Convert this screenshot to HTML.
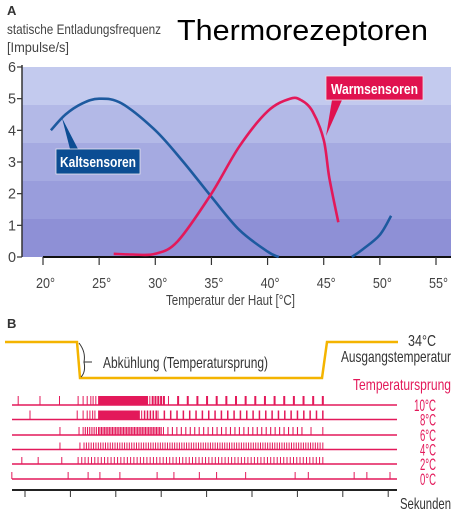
<!DOCTYPE html>
<html><head><meta charset="utf-8">
<style>
html,body{margin:0;padding:0;background:#fff;}
body{width:456px;height:514px;overflow:hidden;position:relative;}
svg{position:absolute;left:0;top:0;}
.n{font-family:"Liberation Sans Narrow","Liberation Sans",sans-serif;}
</style></head>
<body>
<svg id="chart" width="456" height="514" viewBox="0 0 456 514" xmlns="http://www.w3.org/2000/svg">
  <text x="177" y="40" font-family="Liberation Sans, sans-serif" font-size="29" fill="#000" textLength="251" lengthAdjust="spacingAndGlyphs">Thermorezeptoren</text>
  <text x="7" y="15" class="n" font-size="13" font-weight="bold" fill="#333">A</text>
  <text x="7" y="34" class="n" font-size="14" fill="#444" textLength="154" lengthAdjust="spacingAndGlyphs">statische Entladungsfrequenz</text>
  <text x="7" y="52" class="n" font-size="14" fill="#444" textLength="62" lengthAdjust="spacingAndGlyphs">[Impulse/s]</text>
  <g id="plotA"></g>
  <text x="7" y="328" class="n" font-size="13" font-weight="bold" fill="#333">B</text>
  <g id="plotB"></g>
</svg>
<script>
// ---- Panel A data ----
const yTicks = [0,1,2,3,4,5,6];
const xTicks = [20,25,30,35,40,45,50,55];
const kaltTemp = [20.7,22,23.5,25,27,30,32.5,35,37.5,40,41];
const kaltRate = [4.0,4.5,4.85,5.0,4.85,4.0,3.0,1.9,0.85,0.17,0];
const kaltTemp2 = [47.5,48.5,50,51];
const kaltRate2 = [0,0.25,0.7,1.3];
const warmTemp = [26.3,28,30,32,35,37.5,40,42,43,44,45,45.5,46.3];
const warmRate = [0.1,0.08,0.1,0.5,2.0,3.5,4.6,5.0,4.95,4.6,3.7,2.5,1.1];

// ---- Panel B data (time in seconds) ----
const secTicks = [0,1,2,3,4,5,6,7,8];
const rowLabels = ["10°C","8°C","6°C","4°C","2°C","0°C"];
const rowSpikes = [
  [-0.15,0.33,0.76,1.17,1.28,1.37,1.45,1.5,1.56],
  [0.11,1.15,1.28,1.37,1.43,1.49,1.54],
  [0.77,1.19,6.3,6.56],
  [0.77,1.21,6.56],
  [-0.07,0.29,0.81,1.17],
  [-0.29,0.95,1.39,1.65,2.09,2.91,3.28,3.84,4.22,4.86,5.95,6.24,7.25,7.53,8.04]
];
const rowSolid = [[1.61,2.71],[1.61,2.53],[],[],[],[]];
const rowBursts = [
  [[2.75,3.06,6],[3.16,6.56,17]],
  [[2.57,2.89,6],[2.93,6.56,27]],
  [[1.28,1.62,8],[1.65,3.0,40],[3.05,6.1,32]],
  [[1.3,6.5,100]],
  [[1.25,6.56,75]],
  []
];

const NS="http://www.w3.org/2000/svg";
function mk(tag, attrs, parent){const e=document.createElementNS(NS,tag);for(const k in attrs)e.setAttribute(k,attrs[k]);parent.appendChild(e);return e;}

const X0=22,X1=451,YT=67,YB=257;
const xS = t => 43 + (t-20)*(436-43)/35;
const yS = v => YB - v*(YB-YT)/6;

const gA=document.getElementById('plotA');
const bandCols=["#c3caee","#b3b9e7","#a5aae1","#999ddc","#8e90d6"];
for(let i=0;i<5;i++){
  const r=mk('rect',{x:X0,y:YT+i*38,width:X1-X0,height:38,fill:bandCols[i]},gA);
  
  
}
const yAx=mk('line',{x1:X0,y1:YT-2,x2:X0,y2:YB,stroke:"#333","stroke-width":1.5},gA);


yTicks.forEach(v=>{
  const tk=mk('line',{x1:X0-5,y1:yS(v),x2:X0,y2:yS(v),stroke:"#333","stroke-width":1.2},gA);
  
  
  const t=mk('text',{x:12,y:yS(v)+5,"text-anchor":"middle","font-size":15,fill:"#444",class:"n",textLength:8,lengthAdjust:"spacingAndGlyphs"},gA);
  t.textContent=v;
  
  
});
const xAx=mk('line',{x1:43,y1:YB,x2:X1,y2:YB,stroke:"#111","stroke-width":2},gA);


xTicks.forEach(v=>{
  const tk=mk('line',{x1:xS(v),y1:YB,x2:xS(v),y2:YB+8,stroke:"#333","stroke-width":1.2},gA);
  
  
  const t=mk('text',{x:xS(v)-7,y:YB+31,"font-size":15,fill:"#444",class:"n",textLength:19,lengthAdjust:"spacingAndGlyphs"},gA);
  t.textContent=v+"°";
  
  
});
const xt=mk('text',{x:166,y:305,"font-size":15,fill:"#444",class:"n",textLength:129,lengthAdjust:"spacingAndGlyphs"},gA);
xt.textContent="Temperatur der Haut [°C]";



function smoothPath(xs,ys){
  const p=xs.map((x,i)=>[xS(x),yS(ys[i])]);
  let d="M"+p[0][0].toFixed(1)+","+p[0][1].toFixed(1);
  for(let i=0;i<p.length-1;i++){
    const a=p[i-1]||p[i],b=p[i],c=p[i+1],e=p[i+2]||c;
    const c1=[b[0]+(c[0]-a[0])/6,b[1]+(c[1]-a[1])/6];
    const c2=[c[0]-(e[0]-b[0])/6,c[1]-(e[1]-b[1])/6];
    d+=" C"+c1.map(n=>n.toFixed(1))+" "+c2.map(n=>n.toFixed(1))+" "+c[0].toFixed(1)+","+c[1].toFixed(1);
  }
  return d;
}
const k1=mk('path',{d:smoothPath(kaltTemp,kaltRate),fill:"none",stroke:"#1d5a9f","stroke-width":2.6},gA);


const k2=mk('path',{d:smoothPath(kaltTemp2,kaltRate2),fill:"none",stroke:"#1d5a9f","stroke-width":2.6},gA);


const w1=mk('path',{d:smoothPath(warmTemp,warmRate),fill:"none",stroke:"#e3195a","stroke-width":2.6},gA);



const kp=mk('polygon',{points:"62,118 70,149 78,149",fill:"#0b4d93"},gA);


const kb=mk('rect',{x:56,y:149,width:84,height:25,fill:"#0b4d93",stroke:"#e8e8f0","stroke-width":0.8},gA);


const kt=mk('text',{x:60,y:167,"font-size":15,"font-weight":"bold",fill:"#fff",class:"n",textLength:76,lengthAdjust:"spacingAndGlyphs"},gA);
kt.textContent="Kaltsensoren";


const wp=mk('polygon',{points:"326,136 332,100 342,100",fill:"#e0124f"},gA);


const wb=mk('rect',{x:326,y:76,width:97,height:24,fill:"#e0124f",stroke:"#f0d8e0","stroke-width":0.8},gA);


const wt=mk('text',{x:331,y:94,"font-size":15,"font-weight":"bold",fill:"#fff",class:"n",textLength:87,lengthAdjust:"spacingAndGlyphs"},gA);
wt.textContent="Warmsensoren";



// ---- Panel B ----
const gB=document.getElementById('plotB');
const tS = t => 25 + t*45.4;
const rowY=[405,419.5,435,449.5,464,479];
const rowH=[9,9,8,7,7,7];
const rowW=[2,1.5,1.1,1,1,1];
const RED="#e3195a";

const yl=mk('polyline',{points:"5,342 77,342 80,378 322,378 327,342 398,342",fill:"none",stroke:"#f4b400","stroke-width":2.5},gB);


const br=mk('path',{d:"M79,343 Q86,352 84,362 L92,362 M84,362 Q86,372 81,377",fill:"none",stroke:"#333","stroke-width":1},gB);


const ab=mk('text',{x:103,y:368,"font-size":16,fill:"#333",class:"n",textLength:165,lengthAdjust:"spacingAndGlyphs"},gB);
ab.textContent="Abkühlung (Temperatursprung)";


const t34=mk('text',{x:408,y:346,"font-size":16,fill:"#333",class:"n",textLength:28,lengthAdjust:"spacingAndGlyphs"},gB);
t34.textContent="34°C";


const tag=mk('text',{x:341,y:362,"font-size":16,fill:"#333",class:"n",textLength:110,lengthAdjust:"spacingAndGlyphs"},gB);
tag.textContent="Ausgangstemperatur";


const tsp=mk('text',{x:353,y:390,"font-size":16,fill:RED,class:"n",textLength:98,lengthAdjust:"spacingAndGlyphs"},gB);
tsp.textContent="Temperatursprung";



rowLabels.forEach((lab,i)=>{
  const y=rowY[i];
  const ln=mk('line',{x1:12,y1:y,x2:397,y2:y,stroke:RED,"stroke-width":1.5},gB);
  
  
  const tx=mk('text',{x:436,y:y+6,"text-anchor":"end","font-size":17,fill:RED,class:"n",textLength:lab.length>3?22:16,lengthAdjust:"spacingAndGlyphs"},gB);
  tx.textContent=lab;
  
  
  const drawSpike=(t,w)=>{
    const s=mk('rect',{x:tS(t)-w/2,y:y-rowH[i],width:w,height:rowH[i],fill:RED},gB);
    
    
  };
  rowSpikes[i].forEach(t=>drawSpike(t,1));
  if(rowSolid[i].length){
    const s=mk('rect',{x:tS(rowSolid[i][0]),y:y-rowH[i],width:tS(rowSolid[i][1])-tS(rowSolid[i][0]),height:rowH[i],fill:RED},gB);
    
    
  }
  rowBursts[i].forEach(b=>{
    const [a,e,n]=b;
    for(let k=0;k<n;k++) drawSpike(a+(e-a)*k/(n-1), k===0?1:rowW[i]);
  });
});
const sx=mk('line',{x1:12,y1:490,x2:397,y2:490,stroke:"#222","stroke-width":2},gB);


secTicks.forEach(t=>{
  const tk=mk('line',{x1:tS(t),y1:490,x2:tS(t),y2:497,stroke:"#333","stroke-width":1},gB);
  
  
});
const sk=mk('text',{x:400,y:509,"font-size":16,fill:"#333",class:"n",textLength:51,lengthAdjust:"spacingAndGlyphs"},gB);
sk.textContent="Sekunden";


</script>
</body></html>
